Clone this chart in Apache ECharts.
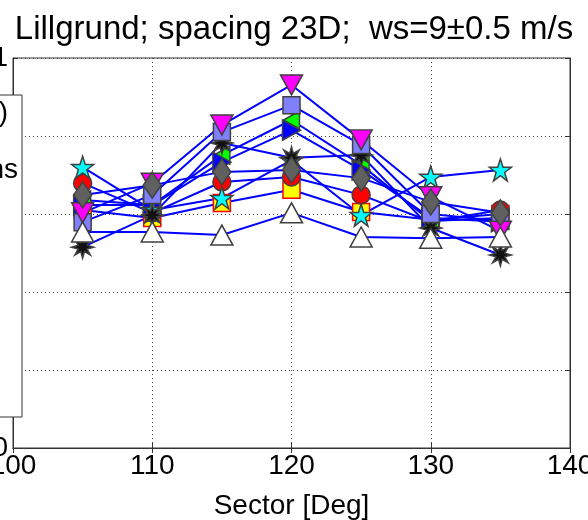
<!DOCTYPE html>
<html>
<head>
<meta charset="utf-8">
<script src="https://cdn.jsdelivr.net/npm/echarts@6/dist/echarts.min.js"></script>
<style>html,body{margin:0;padding:0;background:#fff;}#c{width:588px;height:520px;}</style>
</head>
<body>
<div id="c"></div>
<script>
const sectors = [105, 110, 115, 120, 125, 130, 135];
const xTicks = [100, 110, 120, 130, 140];
const yTicks = [0, 0.2, 0.4, 0.6, 0.8, 1];

const yellowSquare = [0.610, 0.590, 0.628, 0.662, 0.605, 0.585, 0.600];
const redCircle    = [0.679, 0.603, 0.682, 0.695, 0.649, 0.580, 0.610];
const greenTri     = [0.636, 0.623, 0.751, 0.841, 0.726, 0.582, 0.590];
const blueTri      = [0.623, 0.623, 0.733, 0.815, 0.713, 0.590, 0.580];
const cyanStar     = [0.720, 0.610, 0.641, 0.738, 0.597, 0.695, 0.713];
const blackStar    = [0.515, 0.597, 0.782, 0.744, 0.751, 0.564, 0.495];
const grayDiamond  = [0.649, 0.674, 0.708, 0.713, 0.692, 0.631, 0.603];
const blueSquare   = [0.579, 0.649, 0.810, 0.879, 0.777, 0.600, 0.582];
const magentaTri   = [0.603, 0.679, 0.828, 0.931, 0.790, 0.644, 0.556];
const whiteTri     = [0.554, 0.554, 0.546, 0.603, 0.541, 0.538, 0.541];

const titleText = 'Lillgrund; spacing 23D;  ws=9\u00b10.5 m/s';
const xName = 'Sector [Deg]';
const legendTexts = ['(a)', 'Simulations'];

const STAR5 = 'path://M50,0 L61.8,35.3 L98.9,35.3 L69,57.1 L80.3,92.7 L50,70.5 L19.7,92.7 L31,57.1 L1.1,35.3 L38.2,35.3 Z';
const STAR8 = 'path://M50,0 L58.4,29.7 L85.4,14.6 L70.3,41.6 L100,50 L70.3,58.4 L85.4,85.4 L58.4,70.3 L50,100 L41.6,70.3 L14.6,85.4 L29.7,58.4 L0,50 L29.7,41.6 L14.6,14.6 L41.6,29.7 Z';
const TRI_UP = 'path://M50,0 L100,87 L0,87 Z';
const TRI_DOWN = 'path://M0,0 L100,0 L50,87 Z';
const TRI_RIGHT = 'path://M0,0 L87,50 L0,100 Z';
const TRI_LEFT = 'path://M87,0 L0,50 L87,100 Z';

function mk(name, vals, symbol, size, fill, edge) {
  return {
    name: name, type: 'line',
    data: sectors.map((s, i) => [s, vals[i]]),
    symbol: symbol, symbolSize: size,
    showAllSymbol: true,
    lineStyle: { color: '#0000ff', width: 2 },
    itemStyle: { color: fill, borderColor: edge || '#404040', borderWidth: 1.5 },
    emphasis: { disabled: true },
    z: 3
  };
}

const series = [
  mk('yellow', yellowSquare, 'rect', 17, '#ffff00', '#ff0000'),
  mk('red', redCircle, 'circle', 18, '#ff0000'),
  mk('green', greenTri, TRI_LEFT, [16, 18], '#00ff00'),
  mk('bluetri', blueTri, TRI_RIGHT, [18, 20], '#0000ff'),
  mk('cyan', cyanStar, STAR5, 22, '#00ffff'),
  mk('black', blackStar, STAR8, 22, '#111111'),
  mk('bluesq', blueSquare, 'rect', 17, '#8080ff'),
  mk('magenta', magentaTri, TRI_DOWN, [22, 20], '#ff00ff'),
  mk('gray', grayDiamond, 'diamond', [18, 26], '#606060'),
  mk('white', whiteTri, TRI_UP, [22, 20], '#ffffff')
];

const chart = echarts.init(document.getElementById('c'), null, { renderer: 'canvas' });
const font = 'Liberation Sans, Arial, sans-serif';
chart.setOption({
  animation: false,
  backgroundColor: '#ffffff',
  title: {
    text: titleText, left: 'center', top: 8,
    textStyle: { fontSize: 33, fontWeight: 'normal', color: '#000', fontFamily: font }
  },
  grid: { left: 13, right: 18, top: 58, bottom: 72, show: true, borderColor: '#333', borderWidth: 1,
          containLabel: false, outerBoundsMode: 'none' },
  xAxis: [{
    type: 'value', min: xTicks[0], max: xTicks[xTicks.length - 1], interval: 10,
    name: xName, nameLocation: 'middle', nameGap: 44,
    nameTextStyle: { fontSize: 28, color: '#000', fontFamily: font },
    axisLine: { show: true, lineStyle: { color: '#333' } },
    axisTick: { show: true, inside: true, length: 5, lineStyle: { color: '#333' } },
    axisLabel: { fontSize: 28, color: '#000', fontFamily: font, margin: 4, showMinLabel: true, showMaxLabel: true, hideOverlap: false },
    splitLine: { show: true, lineStyle: { color: '#444', type: [1, 3], width: 1 } }
  }, {
    type: 'value', position: 'top', min: xTicks[0], max: xTicks[xTicks.length - 1], interval: 10,
    axisLine: { show: true, lineStyle: { color: '#333' } },
    axisTick: { show: true, inside: true, length: 5, lineStyle: { color: '#333' } },
    axisLabel: { show: false }, splitLine: { show: false }
  }],
  yAxis: [{
    type: 'value', min: yTicks[0], max: yTicks[yTicks.length - 1], interval: 0.2,
    axisLine: { show: true, lineStyle: { color: '#333' } },
    axisTick: { show: true, inside: true, length: 5, lineStyle: { color: '#333' } },
    axisLabel: { fontSize: 28, color: '#000', fontFamily: font, margin: 5 },
    splitLine: { show: true, lineStyle: { color: '#444', type: [1, 3], width: 1 } }
  }, {
    type: 'value', position: 'right', min: yTicks[0], max: yTicks[yTicks.length - 1], interval: 0.2,
    axisLine: { show: true, lineStyle: { color: '#333' } },
    axisTick: { show: true, inside: true, length: 5, lineStyle: { color: '#333' } },
    axisLabel: { show: false }, splitLine: { show: false }
  }],
  series: series,
  graphic: [
    { type: 'rect', z: 100, shape: { x: -300, y: 95, width: 322, height: 322 },
      style: { fill: '#ffffff', stroke: '#333', lineWidth: 1 } },
    { type: 'text', z: 101, x: 8, y: 113,
      style: { text: legendTexts[0], fontSize: 28, fontFamily: font, fill: '#000', align: 'right', verticalAlign: 'middle' } },
    { type: 'text', z: 101, x: 18, y: 170,
      style: { text: legendTexts[1], fontSize: 28, fontFamily: font, fill: '#000', align: 'right', verticalAlign: 'middle' } }
  ]
});
</script>
</body>
</html>
